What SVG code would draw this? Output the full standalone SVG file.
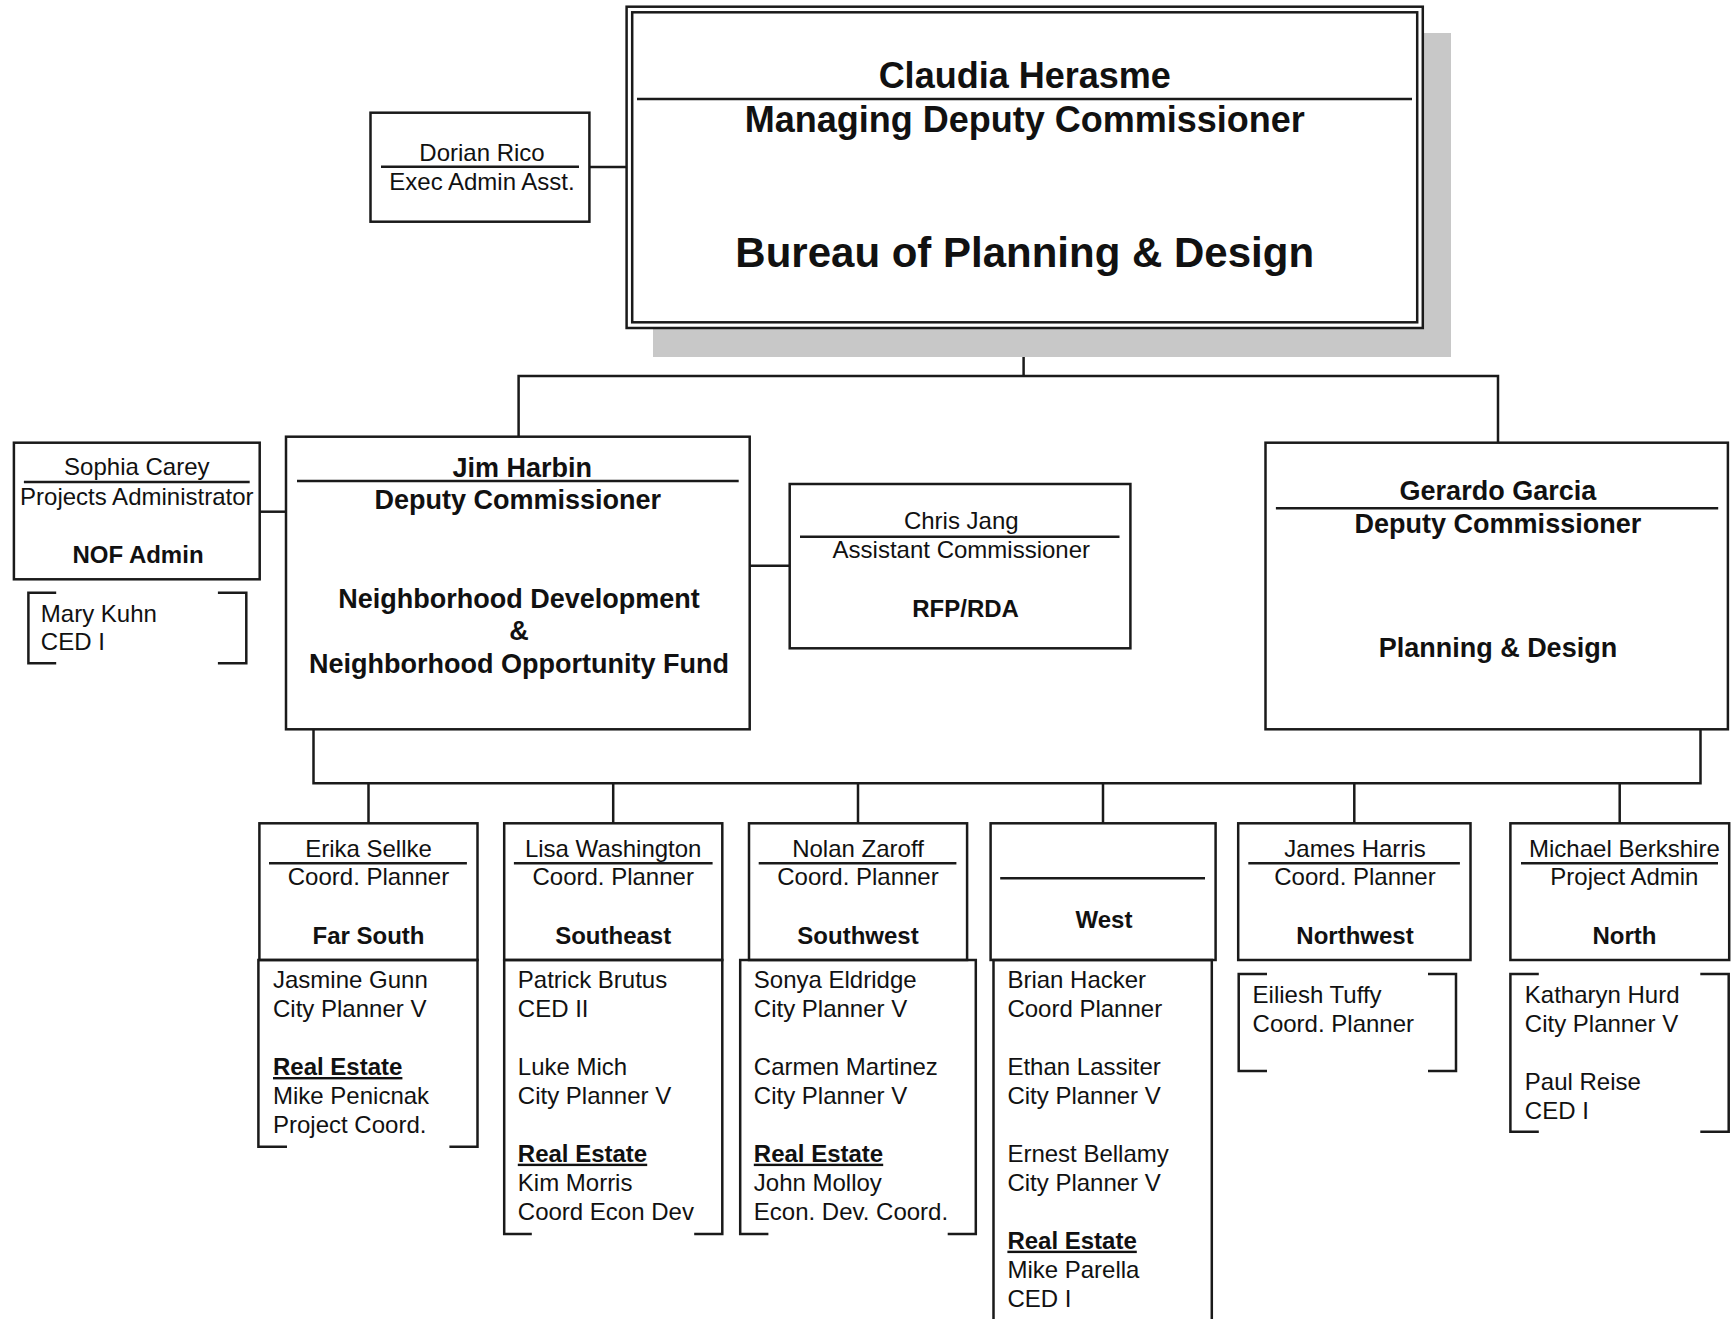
<svg xmlns="http://www.w3.org/2000/svg" width="1734" height="1319" viewBox="0 0 1734 1319">
<style>
.box{fill:#fff;stroke:#1a1a1a;stroke-width:2.5}
.ln{fill:none;stroke:#1a1a1a;stroke-width:2.5}
.t{font-family:"Liberation Sans",Arial,Helvetica,sans-serif;font-size:24px;fill:#111}
.b{font-weight:bold}
.c{text-anchor:middle}
.u{text-decoration:underline}
</style>
<rect width="1734" height="1319" fill="#fff"/>
<g id="connectors">
<path class="ln" d="M589.4,167 H626.6"/>
<path class="ln" d="M1023.6,328 V376"/>
<path class="ln" d="M518.6,436.7 V376 H1498 V442.7"/>
<path class="ln" d="M259.7,511.7 H286"/>
<path class="ln" d="M749.7,565.7 H789.7"/>
<path class="ln" d="M313.5,729.3 V783.3 H1700.5 V729.3"/>
<path class="ln" d="M368.5,783.3 V823.3 M613.2,783.3 V823.3 M858,783.3 V823.3 M1103,783.3 V823.3 M1354.3,783.3 V823.3 M1619.7,783.3 V823.3"/>
</g>
<g id="claudia">
<rect x="653" y="33" width="798" height="324" fill="#c8c8c8"/>
<rect class="box" x="626.6" y="6.7" width="796.2" height="321.3"/>
<rect class="box" x="632.2" y="12.3" width="785" height="310"/>
<path class="ln" d="M637,99 H1412"/>
<text class="t b c" x="1024.7" y="88" style="font-size:36px">Claudia Herasme</text>
<text class="t b c" x="1024.7" y="132" style="font-size:36px">Managing Deputy Commissioner</text>
<text class="t b c" x="1024.7" y="267" style="font-size:42px">Bureau of Planning &amp; Design</text>
</g>
<g id="dorian">
<rect class="box" x="370.5" y="112.7" width="218.9" height="109"/>
<path class="ln" d="M381,166.7 H579"/>
<text class="t c" x="482" y="161">Dorian Rico</text>
<text class="t c" x="482" y="190">Exec Admin Asst.</text>
</g>
<g id="sophia">
<rect class="box" x="13.9" y="442.7" width="245.8" height="136.6"/>
<path class="ln" d="M23.9,482 H249.7"/>
<text class="t c" x="136.8" y="475">Sophia Carey</text>
<text class="t c" x="136.8" y="505">Projects Administrator</text>
<text class="t b c" x="138" y="562.7">NOF Admin</text>
</g>
<g id="mary">
<path class="ln" d="M56.2,592.7 H28.4 V663.3 H56.2 M217.9,592.7 H246.3 V663.3 H217.9"/>
<text class="t" x="40.8" y="621.7">Mary Kuhn</text>
<text class="t" x="40.8" y="650">CED I</text>
</g>
<g id="jim">
<rect class="box" x="286" y="436.7" width="463.7" height="292.6"/>
<path class="ln" d="M297,481 H738.7"/>
<text class="t b c" x="522.3" y="476.7" style="font-size:27px">Jim Harbin</text>
<text class="t b c" x="517.8" y="509.3" style="font-size:27px">Deputy Commissioner</text>
<text class="t b c" x="519" y="608.3" style="font-size:27px">Neighborhood Development</text>
<text class="t b c" x="519" y="640" style="font-size:27px">&amp;</text>
<text class="t b c" x="519" y="673.3" style="font-size:27px">Neighborhood Opportunity Fund</text>
</g>
<g id="chris">
<rect class="box" x="789.7" y="484" width="340.7" height="164.3"/>
<path class="ln" d="M800,536.7 H1119.5"/>
<text class="t c" x="961.3" y="529.3">Chris Jang</text>
<text class="t c" x="961.3" y="558.3">Assistant Commissioner</text>
<text class="t b c" x="965.6" y="616.7">RFP/RDA</text>
</g>
<g id="gerardo">
<rect class="box" x="1265.5" y="442.7" width="462.4" height="286.6"/>
<path class="ln" d="M1275.9,508.3 H1718.2"/>
<text class="t b c" x="1497.9" y="500" style="font-size:27px">Gerardo Garcia</text>
<text class="t b c" x="1497.9" y="532.7" style="font-size:27px">Deputy Commissioner</text>
<text class="t b c" x="1497.9" y="656.7" style="font-size:27px">Planning &amp; Design</text>
</g>
<g id="erika">
<rect class="box" x="259.4" y="823.3" width="218.1" height="136.7"/>
<path class="ln" d="M269,863.3 H466.9"/>
<text class="t c" x="368.5" y="856.7">Erika Sellke</text>
<text class="t c" x="368.5" y="885">Coord. Planner</text>
<text class="t b c" x="368.5" y="944.3">Far South</text>
<path class="ln" d="M287,1146.7 H258.4 V960 H477.5 V1146.7 H449.4"/>
<text class="t" x="273" y="988.3">Jasmine Gunn</text>
<text class="t" x="273" y="1017.3">City Planner V</text>
<text class="t b u" x="273" y="1075">Real Estate</text>
<text class="t" x="273" y="1104">Mike Penicnak</text>
<text class="t" x="273" y="1132.7">Project Coord.</text>
</g>
<g id="lisa">
<rect class="box" x="504.2" y="823.3" width="218.1" height="136.7"/>
<path class="ln" d="M513.9,863.3 H712.6"/>
<text class="t c" x="613.2" y="856.7">Lisa Washington</text>
<text class="t c" x="613.2" y="885">Coord. Planner</text>
<text class="t b c" x="613.2" y="944.3">Southeast</text>
<path class="ln" d="M531.8,1234 H504.2 V960 H722.3 V1234 H694.2"/>
<text class="t" x="517.8" y="988.3">Patrick Brutus</text>
<text class="t" x="517.8" y="1017.3">CED II</text>
<text class="t" x="517.8" y="1075">Luke Mich</text>
<text class="t" x="517.8" y="1104">City Planner V</text>
<text class="t b u" x="517.8" y="1161.7">Real Estate</text>
<text class="t" x="517.8" y="1190.7">Kim Morris</text>
<text class="t" x="517.8" y="1219.7">Coord Econ Dev</text>
</g>
<g id="nolan">
<rect class="box" x="749" y="823.3" width="218.1" height="136.7"/>
<path class="ln" d="M758.7,863.3 H956.4"/>
<text class="t c" x="858" y="856.7">Nolan Zaroff</text>
<text class="t c" x="858" y="885">Coord. Planner</text>
<text class="t b c" x="858" y="944.3">Southwest</text>
<path class="ln" d="M768.4,1234 H740.2 V960 H975.8 V1234 H947.7"/>
<text class="t" x="753.8" y="988.3">Sonya Eldridge</text>
<text class="t" x="753.8" y="1017.3">City Planner V</text>
<text class="t" x="753.8" y="1075">Carmen Martinez</text>
<text class="t" x="753.8" y="1104">City Planner V</text>
<text class="t b u" x="753.8" y="1161.7">Real Estate</text>
<text class="t" x="753.8" y="1190.7">John Molloy</text>
<text class="t" x="753.8" y="1219.7">Econ. Dev. Coord.</text>
</g>
<g id="west">
<rect class="box" x="990.6" y="823.3" width="225" height="136.7"/>
<path class="ln" d="M1000.2,878.3 H1205"/>
<text class="t b c" x="1104" y="928.3">West</text>
<path class="ln" d="M993.5,1322 V960 H1211.8 V1322"/>
<text class="t" x="1007.4" y="988.3">Brian Hacker</text>
<text class="t" x="1007.4" y="1017.3">Coord Planner</text>
<text class="t" x="1007.4" y="1075">Ethan Lassiter</text>
<text class="t" x="1007.4" y="1104">City Planner V</text>
<text class="t" x="1007.4" y="1161.7">Ernest Bellamy</text>
<text class="t" x="1007.4" y="1190.7">City Planner V</text>
<text class="t b u" x="1007.4" y="1248.7">Real Estate</text>
<text class="t" x="1007.4" y="1277.7">Mike Parella</text>
<text class="t" x="1007.4" y="1306.7">CED I</text>
</g>
<g id="james">
<rect class="box" x="1238.2" y="823.3" width="232.3" height="136.7"/>
<path class="ln" d="M1248.3,863.3 H1459.9"/>
<text class="t c" x="1355" y="856.7">James Harris</text>
<text class="t c" x="1355" y="885">Coord. Planner</text>
<text class="t b c" x="1355" y="944.3">Northwest</text>
</g>
<g id="eiliesh">
<path class="ln" d="M1267,974 H1238.7 V1071 H1267 M1428,974 H1456 V1071 H1428"/>
<text class="t" x="1252.6" y="1003.3">Eiliesh Tuffy</text>
<text class="t" x="1252.6" y="1031.7">Coord. Planner</text>
</g>
<g id="michael">
<rect class="box" x="1510.4" y="823.3" width="218.8" height="136.7"/>
<path class="ln" d="M1521,863.3 H1718"/>
<text class="t c" x="1624.4" y="856.7">Michael Berkshire</text>
<text class="t c" x="1624.4" y="885">Project Admin</text>
<text class="t b c" x="1624.4" y="944.3">North</text>
</g>
<g id="katharyn">
<path class="ln" d="M1538.8,974 H1510.4 V1131.7 H1538.8 M1700.3,974 H1728.7 V1131.7 H1700.3"/>
<text class="t" x="1524.8" y="1003.3">Katharyn Hurd</text>
<text class="t" x="1524.8" y="1031.7">City Planner V</text>
<text class="t" x="1524.8" y="1090">Paul Reise</text>
<text class="t" x="1524.8" y="1119">CED I</text>
</g>
</svg>
